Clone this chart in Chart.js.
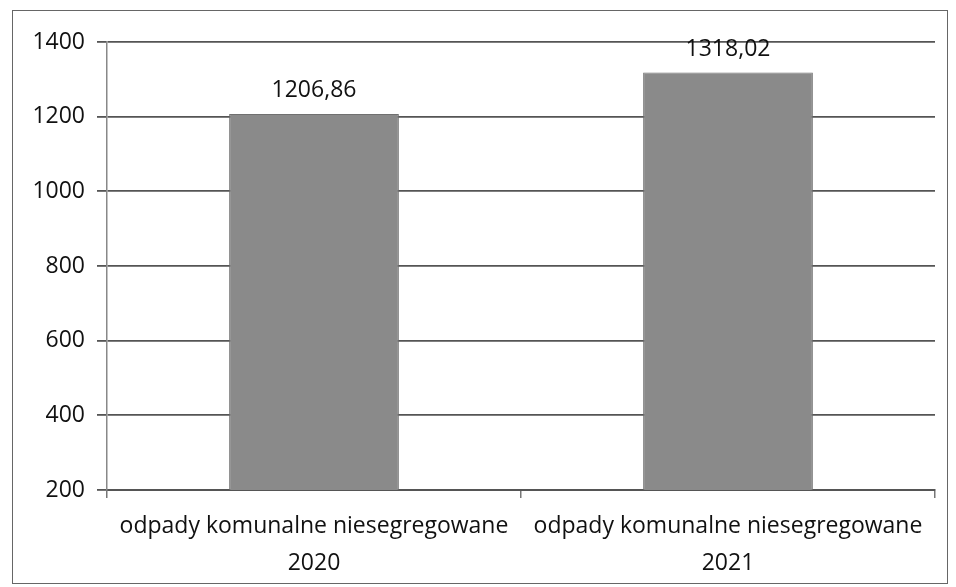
<!DOCTYPE html>
<html>
<head>
<meta charset="utf-8">
<script src="https://cdn.jsdelivr.net/npm/chart.js@4"></script>
<style>
  html, body { margin: 0; padding: 0; background: #fff; }
  #wrap { position: relative; width: 956px; height: 587px; }
  #frame {
    position: absolute; left: 12px; top: 10px; width: 936px; height: 574px;
    border: 1px solid #666; box-sizing: border-box; pointer-events: none;
  }
</style>
</head>
<body>
<div id="wrap">
  <canvas id="chart" width="956" height="587"></canvas>
  <div id="frame"></div>
</div>
<script>
// ---- Data ----
const categories = [
  ['odpady komunalne niesegregowane', '2020'],
  ['odpady komunalne niesegregowane', '2021']
];
const values = [1206.86, 1318.02];
const yTicks = [200, 400, 600, 800, 1000, 1200, 1400];

const FONT = "'Open Sans', sans-serif";

// labels drawn above bars, polish decimal comma
const valueLabels = {
  id: 'valueLabels',
  afterDatasetsDraw(chart) {
    const { ctx } = chart;
    const meta = chart.getDatasetMeta(0);
    ctx.save();
    ctx.font = `23px ${FONT}`;
    ctx.fillStyle = '#111';
    ctx.textAlign = 'center';
    ctx.textBaseline = 'bottom';
    meta.data.forEach((bar, i) => {
      const txt = values[i].toFixed(2).replace('.', ',');
      ctx.fillText(txt, bar.x, bar.y - 12);
    });
    ctx.restore();
  }
};

const ctx = document.getElementById('chart').getContext('2d');
new Chart(ctx, {
  type: 'bar',
  data: {
    labels: categories,
    datasets: [{
      data: values,
      backgroundColor: '#8a8a8a',
      borderColor: '#707070',
      borderWidth: 1,
      barPercentage: 0.41,
      categoryPercentage: 1
    }]
  },
  options: {
    responsive: false,
    animation: false,
    layout: { padding: { top: 42, right: 21, left: 0, bottom: 0 } },
    plugins: {
      legend: { display: false },
      tooltip: { enabled: false }
    },
    scales: {
      x: {
        grid: {
          display: true, drawOnChartArea: false, offset: true,
          color: '#777', tickLength: 8, lineWidth: 1.5
        },
        border: { color: '#555', width: 2 },
        ticks: {
          color: '#111', padding: 9, maxRotation: 0, autoSkip: false,
          font: { family: FONT, size: 23, lineHeight: 1.65 }
        },
        afterFit(scale) { scale.height = 587 - 490; }
      },
      y: {
        min: 200, max: 1400,
        afterBuildTicks(scale) { scale.ticks = yTicks.map(v => ({ value: v })); },
        grid: { color: '#555', lineWidth: 1.8, tickLength: 10 },
        border: { color: '#888', width: 1.5 },
        ticks: {
          color: '#111', padding: 12,
          font: { family: FONT, size: 23 },
          callback: v => String(v)
        },
        afterFit(scale) { scale.width = 107; }
      }
    }
  },
  plugins: [valueLabels]
});
</script>
</body>
</html>
